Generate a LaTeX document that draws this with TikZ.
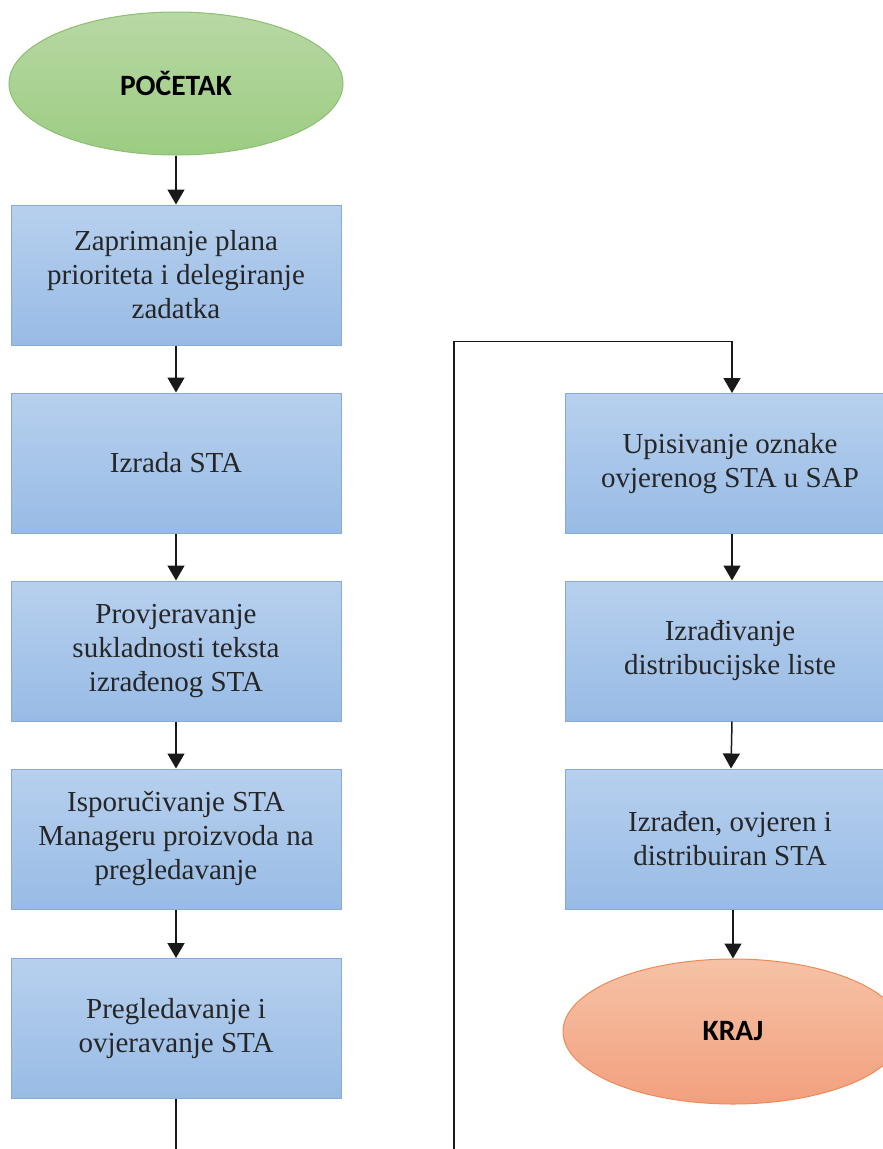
\documentclass[tikz,border=0pt]{standalone}
\usepackage{fontspec}
\setmainfont{Liberation Serif}
\newfontfamily\calib{Carlito}
\usetikzlibrary{arrows.meta,shapes.geometric}
\definecolor{boxtop}{HTML}{B7D0EE}
\definecolor{boxbot}{HTML}{98BBE5}
\definecolor{boxline}{HTML}{86ABDA}
\definecolor{gtop}{HTML}{B8D8A4}
\definecolor{gbot}{HTML}{9CCC82}
\definecolor{gline}{HTML}{8CBF70}
\definecolor{otop}{HTML}{F6C2A6}
\definecolor{obot}{HTML}{F2A07E}
\definecolor{oline}{HTML}{EE8A58}
\tikzset{
  procbox/.style={rectangle, draw=boxline, line width=1pt, top color=boxtop, bottom color=boxbot,
    minimum width=330pt, minimum height=140pt, align=center, inner sep=0pt,
    font=\fontsize{29}{34}\selectfont, text=black!85},
  startell/.style={ellipse, draw=gline, line width=1pt, top color=gtop, bottom color=gbot,
    minimum width=334pt, minimum height=143pt, inner sep=0pt, font=\calib\bfseries\fontsize{29.5}{32}\selectfont},
  endell/.style={ellipse, draw=oline, line width=1pt, top color=otop, bottom color=obot,
    minimum width=340pt, minimum height=145pt, inner sep=0pt, font=\calib\bfseries\fontsize{29.5}{32}\selectfont},
  conn/.style={draw=black!90, line width=1.5pt},
  arr/.style={conn, -{Triangle[width=17pt,length=15pt]}}
}
\begin{document}
\begin{tikzpicture}[x=1pt,y=-1pt]
\useasboundingbox (0,0) rectangle (883,1149);
\clip (0,0) rectangle (883,1149);
\node[startell] (start) at (176,83.5) {POČETAK};
\node[procbox] (b1) at (176,275) {Zaprimanje plana\\prioriteta i delegiranje\\zadatka};
\node[procbox] (b2) at (176,463) {Izrada STA};
\node[procbox] (b3) at (176,651) {Provjeravanje\\sukladnosti teksta\\izrađenog STA};
\node[procbox] (b4) at (176,839) {Isporučivanje STA\\Manageru proizvoda na\\pregledavanje};
\node[procbox] (b5) at (176,1028.5) {Pregledavanje i\\ovjeravanje STA};
\node[procbox] (r1) at (730,463.5) {Upisivanje oznake\\ovjerenog STA u SAP};
\node[procbox] (r2) at (730,651) {Izrađivanje\\distribucijske liste};
\node[procbox] (r3) at (730,839) {Izrađen, ovjeren i\\distribuiran STA};
\node[endell] (end) at (733,1031.5) {KRAJ};
\coordinate (lbot) at (176,1160);
\coordinate (rbot) at (454,1160);
\coordinate (rtop) at (454,341.5);
\coordinate (rtopr) at (732,341.5);
\draw[arr] (start.south) -- (b1.north);
\draw[arr] (b1) -- (b2);
\draw[arr] (b2) -- (b3);
\draw[arr] (b3) -- (b4);
\draw[arr] (b4) -- (b5);
\draw[conn] (b5.south) -- (lbot);
\draw[arr] (rbot) -- (rtop) -- (rtopr) -- (rtopr |- r1.north);
\draw[arr] (r1.south -| rtopr) -- (r2.north -| rtopr);
\draw[arr] (r2.south -| rtopr) -- ([xshift=-1pt]r3.north -| rtopr);
\draw[arr] (r3.south -| end.north) -- (end.north);
\end{tikzpicture}
\end{document}
